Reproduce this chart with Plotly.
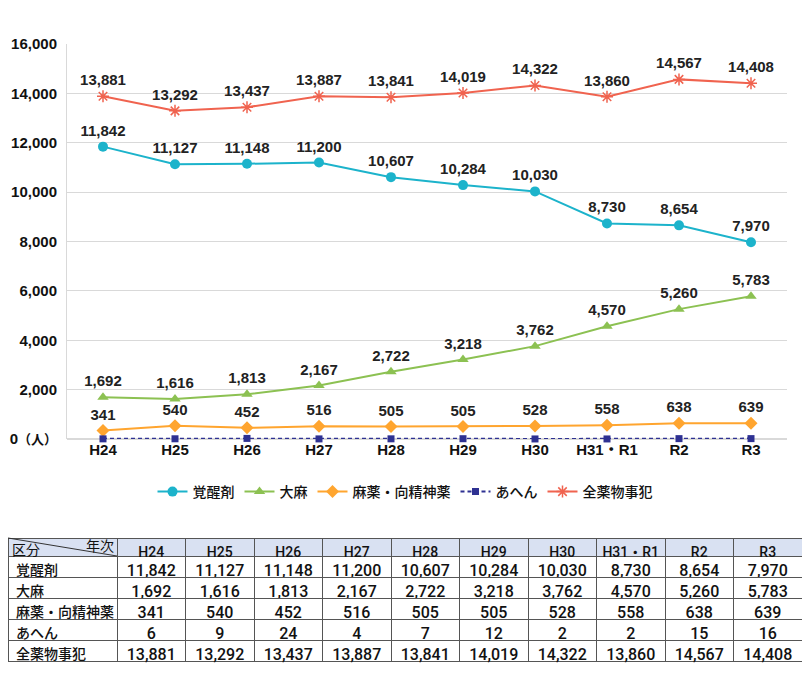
import plotly.graph_objects as go

years = ["H24", "H25", "H26", "H27", "H28", "H29", "H30", "H31・R1", "R2", "R3"]
kakuseizai = [11842, 11127, 11148, 11200, 10607, 10284, 10030, 8730, 8654, 7970]
taima = [1692, 1616, 1813, 2167, 2722, 3218, 3762, 4570, 5260, 5783]
mayaku = [341, 540, 452, 516, 505, 505, 528, 558, 638, 639]
ahen = [6, 9, 24, 4, 7, 12, 2, 2, 15, 16]
zen = [13881, 13292, 13437, 13887, 13841, 14019, 14322, 13860, 14567, 14408]

series_names = ["覚醒剤", "大麻", "麻薬・向精神薬", "あへん", "全薬物事犯"]
y_ticks = [0, 2000, 4000, 6000, 8000, 10000, 12000, 14000, 16000]
y_ticktext = ["0<span style='font-size:13px'>（人）</span>", "2,000", "4,000", "6,000", "8,000",
              "10,000", "12,000", "14,000", "16,000"]

# page body has an 8px default margin; the figure is sized to fit inside the window
OFF = 8
W, H = 810 - 2 * OFF, 700 - 2 * OFF
FONT = "Liberation Sans, Noto Sans CJK JP, sans-serif"
JFONT = "Noto Sans CJK JP, sans-serif"
TFONT = "Roboto, Noto Sans CJK JP, sans-serif"

def px(x):
    return (x - OFF) / W

def py(y):
    return 1 - (y - OFF) / H

fig = go.Figure()

styles = [
    dict(data=kakuseizai, color="#1CB3CB", symbol="circle", size=10, dash="solid", label=True),
    dict(data=taima, color="#8CC152", symbol="triangle-up", size=10, dash="solid", label=True),
    dict(data=mayaku, color="#FFA52F", symbol="diamond", size=10, dash="solid", label=True),
    dict(data=ahen, color="#2E3192", symbol="square", size=7, dash="4px,3px", label=False),
    dict(data=zen, color="#F0634F", symbol="asterisk-open", size=10, dash="solid", label=True),
]

for name, st in zip(series_names, styles):
    marker = dict(symbol=st["symbol"], size=st["size"], color=st["color"])
    if st["symbol"] == "asterisk-open":
        marker["line"] = dict(color=st["color"], width=1.5)
    fig.add_trace(go.Scatter(
        x=years, y=st["data"], name=name,
        mode="lines+markers+text" if st["label"] else "lines+markers",
        line=dict(color=st["color"], width=2, dash=st["dash"]),
        marker=marker,
        texttemplate="%{y:,}" if st["label"] else None,
        textposition="top center",
        textfont=dict(family=FONT, size=15, color="#222222", weight="bold"),
        cliponaxis=False,
        showlegend=True,
    ))

# Table
header_vals = [""] + years
cell_cols = [series_names]
for i in range(len(years)):
    col = [kakuseizai[i], taima[i], mayaku[i], ahen[i], zen[i]]
    cell_cols.append([f"{v:,}" for v in col])

fig.add_trace(go.Table(
    domain=dict(x=[px(8), px(802)], y=[py(692), py(538)]),
    columnwidth=[109] + [68.5] * len(years),
    header=dict(
        values=header_vals,
        fill_color="#D9E1F2",
        line=dict(color="#555555", width=1),
        align="center",
        font=dict(family=TFONT, size=14, color="#111111", weight=500),
        height=18,
    ),
    cells=dict(
        values=cell_cols,
        fill_color="white",
        line=dict(color="#555555", width=1),
        align=["left"] + ["center"] * len(years),
        font=dict(family=TFONT, size=[14] + [16] * len(years), color="#111111", weight=500),
        height=21,
    ),
))

fig.add_shape(type="line", xref="paper", yref="paper",
              x0=px(8), y0=py(538), x1=px(117), y1=py(556),
              line=dict(color="#333333", width=1))
fig.add_annotation(xref="paper", yref="paper", x=px(10), y=py(549), text="区分",
                   showarrow=False, xanchor="left", yanchor="middle",
                   font=dict(family=JFONT, size=14, color="#111111"))
fig.add_annotation(xref="paper", yref="paper", x=px(116), y=py(545), text="年次",
                   showarrow=False, xanchor="right", yanchor="middle",
                   font=dict(family=JFONT, size=14, color="#111111"))

fig.update_layout(
    width=W, height=H,
    margin=dict(l=0, r=0, t=0, b=0, autoexpand=False),
    paper_bgcolor="white", plot_bgcolor="white",
    font=dict(family=FONT, size=14, color="#111111"),
    xaxis=dict(
        domain=[px(67), px(787)],
        type="category", automargin=False,
        range=[-0.5, len(years) - 0.5],
        showgrid=False, showline=False, zeroline=False,
        ticks="", tickfont=dict(family=FONT, size=15, weight="bold", color="#111111"),
        anchor="y",
    ),
    yaxis=dict(
        domain=[py(439), py(44)],
        range=[0, 16000], automargin=False,
        tickvals=y_ticks, ticktext=y_ticktext,
        showgrid=True, gridcolor="#D9D9D9", gridwidth=1,
        showline=True, linecolor="#D9D9D9", linewidth=1,
        zeroline=True, zerolinecolor="#D9D9D9",
        ticks="", tickfont=dict(family=FONT, size=15, weight="bold", color="#111111"),
        ticklabelstandoff=6,
    ),
    legend=dict(
        orientation="h", x=0.5, xanchor="center", y=py(492), yanchor="middle",
        font=dict(family=JFONT, size=14, color="#111111", weight=500),
        itemwidth=30, traceorder="normal",
    ),
)

fig.write_html("out.html")
